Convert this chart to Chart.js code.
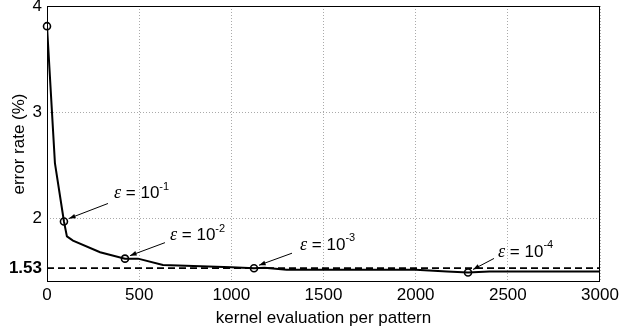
<!DOCTYPE html>
<html>
<head>
<meta charset="utf-8">
<script src="https://cdn.jsdelivr.net/npm/chart.js@4/dist/chart.umd.min.js"></script>
<style>
  html, body { margin: 0; padding: 0; background: #fff; }
</style>
</head>
<body>
<canvas id="grafica" width="620" height="332"></canvas>
<script>
// kernel evaluations per pattern vs error rate (%)
const evalX = [0, 43, 92, 108, 141, 288, 423, 494, 629, 1000, 1123, 1180, 1300, 2000, 2170, 2284, 2400, 3000];
const errorY = [3.81, 2.52, 1.97, 1.83, 1.79, 1.68, 1.62, 1.62, 1.56, 1.54, 1.53, 1.535, 1.515, 1.515, 1.50, 1.49, 1.50, 1.50];

// marked epsilon points
const markX = [0, 92, 423, 1123, 2284];
const markY = [3.81, 1.97, 1.62, 1.53, 1.49];
const epsExp = [null, "-1", "-2", "-3", "-4"];

const baseline = 1.53;
const yTicks = [1.53, 2, 3, 4];

const fuente = "'Liberation Sans', Arial, sans-serif";

// text offset from marker, arrow start (pixels)
const offsets = [null,
  { tx: 50, ty: -28, ax: 44, ay: -18 },
  { tx: 45, ty: -23, ax: 40, ay: -16 },
  { tx: 46, ty: -23, ax: 38, ay: -15 },
  { tx: 30, ty: -20, ax: 26, ay: -14 }
];

const anotaciones = {
  id: "anotaciones",
  afterDatasetsDraw(chart) {
    const ctx = chart.ctx;
    const sx = chart.scales.x, sy = chart.scales.y;
    const a = chart.chartArea;
    ctx.save();
    // box
    ctx.strokeStyle = "#000";
    ctx.lineWidth = 1;
    ctx.strokeRect(a.left + 0.5, a.top + 0.5, a.right - a.left - 1, a.bottom - a.top - 1);

    for (let i = 1; i < markX.length; i++) {
      const px = sx.getPixelForValue(markX[i]);
      const py = sy.getPixelForValue(markY[i]);
      const o = offsets[i];
      // arrow
      const x1 = px + o.ax, y1 = py + o.ay;
      const x2 = px + 5, y2 = py - 3;
      ctx.strokeStyle = "#000";
      ctx.fillStyle = "#000";
      ctx.lineWidth = 1;
      ctx.beginPath();
      ctx.moveTo(x1, y1);
      ctx.lineTo(x2, y2);
      ctx.stroke();
      const ang = Math.atan2(y2 - y1, x2 - x1);
      ctx.beginPath();
      ctx.moveTo(x2, y2);
      ctx.lineTo(x2 - 7 * Math.cos(ang - 0.35), y2 - 7 * Math.sin(ang - 0.35));
      ctx.lineTo(x2 - 7 * Math.cos(ang + 0.35), y2 - 7 * Math.sin(ang + 0.35));
      ctx.closePath();
      ctx.fill();

      // label
      let tx = px + o.tx;
      const ty = py + o.ty;
      ctx.textBaseline = "middle";
      ctx.textAlign = "left";
      ctx.font = "italic 18px 'Liberation Serif', serif";
      ctx.fillText("\u03b5", tx, ty);
      tx += ctx.measureText("\u03b5").width;
      ctx.font = "17px " + fuente;
      ctx.fillText(" = 10", tx, ty);
      tx += ctx.measureText(" = 10").width;
      ctx.font = "11px " + fuente;
      ctx.fillText(epsExp[i], tx, ty - 7);
    }
    ctx.restore();
  }
};

const puntos = evalX.map((x, i) => ({ x: x, y: errorY[i] }));
const marcas = markX.map((x, i) => ({ x: x, y: markY[i] }));

new Chart(document.getElementById("grafica"), {
  type: "line",
  data: {
    datasets: [
      {
        data: [{ x: 0, y: baseline }, { x: 3000, y: baseline }],
        borderColor: "#000",
        borderWidth: 1.8,
        borderDash: [7, 4],
        pointRadius: 0
      },
      {
        data: puntos,
        borderColor: "#000",
        borderWidth: 2,
        pointRadius: 0,
        tension: 0
      },
      {
        data: marcas,
        showLine: false,
        pointRadius: 3.5,
        pointBorderWidth: 1.6,
        pointBorderColor: "#000",
        pointBackgroundColor: "rgba(0,0,0,0)",
        clip: false
      }
    ]
  },
  options: {
    responsive: false,
    animation: false,
    devicePixelRatio: 1,
    layout: { padding: { top: 6, right: 20, left: 0, bottom: 0 } },
    plugins: { legend: { display: false }, tooltip: { enabled: false } },
    scales: {
      x: {
        type: "linear",
        min: 0,
        max: 3000,
        afterFit: s => { s.height = 50; s.paddingLeft = 0; s.paddingRight = 0; },
        ticks: {
          stepSize: 500,
          padding: 3,
          color: "#000",
          font: { family: fuente, size: 17 },
          callback: v => String(v)
        },
        grid: {
          drawTicks: false,
          color: "#aaa",
          borderDash: [1, 2],
          lineWidth: 1
        },
        border: { display: false, dash: [1, 2] },
        title: {
          display: true,
          text: "kernel evaluation per pattern",
          color: "#000",
          font: { family: fuente, size: 17 },
          padding: { top: 0, bottom: 3 }
        }
      },
      y: {
        type: "linear",
        min: 1.4,
        max: 4,
        afterFit: s => { s.width = 47; s.paddingTop = 0; s.paddingBottom = 0; },
        afterBuildTicks: s => { s.ticks = yTicks.map(v => ({ value: v })); },
        ticks: {
          padding: 5,
          color: "#000",
          font: c => (c.tick && c.tick.value === baseline)
            ? { family: fuente, size: 17, weight: "bold" }
            : { family: fuente, size: 17 },
          callback: v => String(v)
        },
        grid: {
          drawTicks: false,
          color: c => (c.tick && c.tick.value === baseline) ? "rgba(0,0,0,0)" : "#aaa",
          borderDash: [1, 2],
          lineWidth: 1
        },
        border: { display: false, dash: [1, 2] },
        title: {
          display: true,
          text: "error rate (%)",
          color: "#000",
          font: { family: fuente, size: 17 },
          padding: { top: 9, bottom: 0 }
        }
      }
    }
  },
  plugins: [anotaciones]
});
</script>
</body>
</html>
